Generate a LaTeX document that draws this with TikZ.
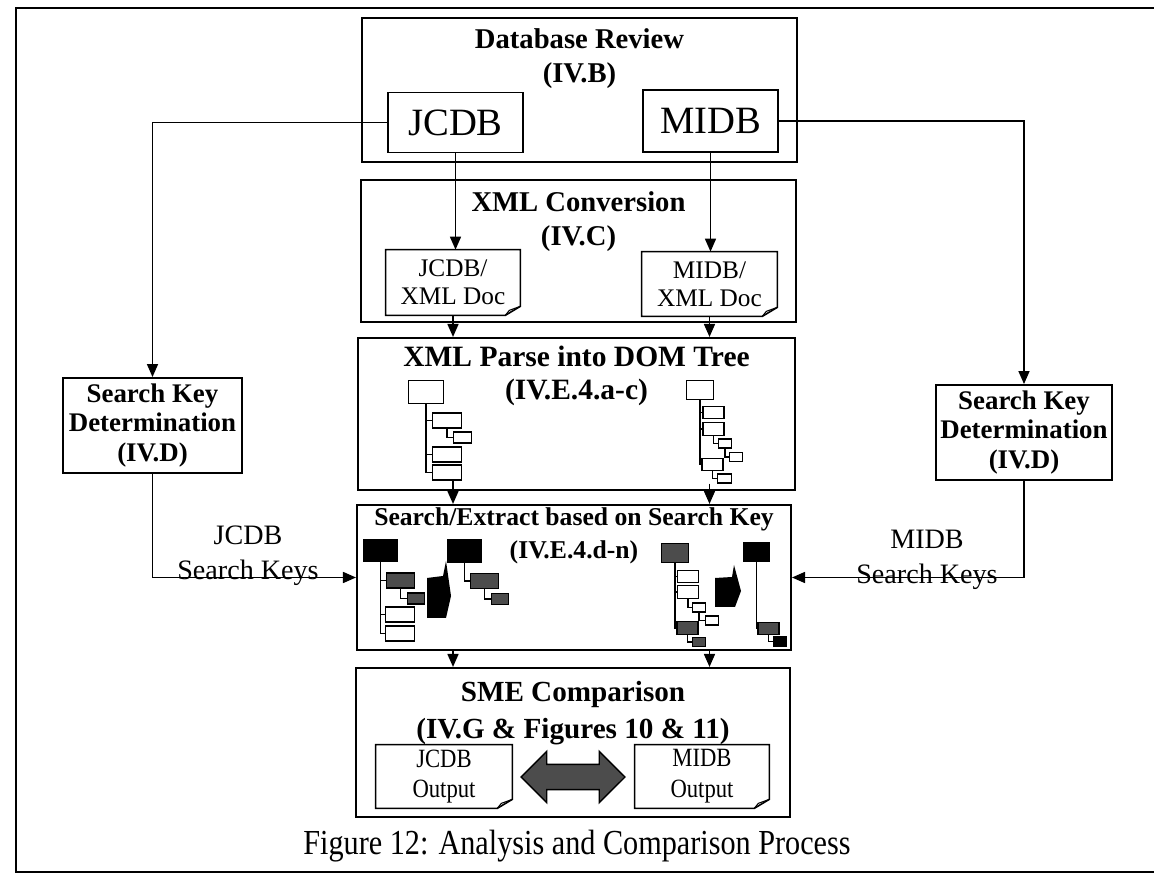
\documentclass[tikz,border=0pt]{standalone}
\usepackage{fontspec}
\setmainfont{Liberation Serif}
\newfontfamily\narrowfont[FakeStretch=0.86]{Liberation Serif}
\usetikzlibrary{arrows.meta, positioning, calc, shapes.arrows}

% page with a curled corner round a node
\newcommand{\docframe}[1]{%
  \draw[line width=0.9pt] (#1.north west) -- (#1.north east) -- ([yshift=0.18cm]#1.south east)
    -- ([xshift=-0.3cm]#1.south east) -- (#1.south west) -- cycle;
  \draw[line width=0.6pt] ([xshift=-0.3cm]#1.south east) -- ([xshift=-0.22cm,yshift=0.1cm]#1.south east)
    -- ([yshift=0.18cm]#1.south east);}

\tikzset{
  stage/.style={draw, line width=1.2pt, inner sep=0pt},
  ttl/.style={font=\fontsize{16.3}{19}\selectfont\bfseries, align=center, inner sep=0pt},
  dbbox/.style={draw, line width=1.1pt, font=\fontsize{22}{24}\selectfont, inner sep=0pt},
  doc/.style={inner sep=0pt, align=center, font=\fontsize{14.4}{16}\selectfont},
  outdoc/.style={inner sep=0pt, align=center, font=\narrowfont\fontsize{15}{17.5}\selectfont},
  keybox/.style={draw, line width=1.1pt, font=\fontsize{15.3}{17}\selectfont\bfseries, align=center, inner sep=0pt},
  lbl/.style={font=\fontsize{16}{20}\selectfont, align=center, inner sep=0pt},
  arr/.style={-{Triangle[length=2.6mm,width=2.2mm]}, line width=0.9pt},
  tline/.style={line width=0.8pt},
  troot/.style={draw, line width=0.8pt, inner sep=0pt, minimum width=0.69cm, minimum height=0.45cm},
  tkid/.style={draw, line width=0.8pt, inner sep=0pt, minimum width=0.57cm, minimum height=0.3cm},
  tgc/.style={draw, line width=0.8pt, inner sep=0pt, minimum width=0.35cm, minimum height=0.22cm},
  sroot/.style={draw, line width=0.8pt, inner sep=0pt, minimum width=0.53cm, minimum height=0.38cm},
  skid/.style={draw, line width=0.8pt, inner sep=0pt, minimum width=0.42cm, minimum height=0.25cm},
  sgc/.style={draw, line width=0.8pt, inner sep=0pt, minimum width=0.27cm, minimum height=0.18cm},
  wt/.style={fill=white},
  bk/.style={fill=black},
  dk/.style={fill=black!70}
}

\begin{document}
\begin{tikzpicture}[x=0.02cm, y=-0.02cm]
  \useasboundingbox (0,0) rectangle (1154,878);

  % Frame
  \draw[line width=1.3pt] (1170,8) -- (16,8) -- (16,872) -- (1170,872);

  % Database review
  \node[stage, minimum width=8.7cm, minimum height=2.88cm] (dbrev) at (579.5,90) {};
  \node[ttl] (dbrevT) at (579.5,58.5) {Database Review\\(IV.B)};
  \node[dbbox, minimum width=2.7cm, minimum height=1.2cm] (jcdb) at (455.5,122.5) {JCDB};
  \node[dbbox, minimum width=2.7cm, minimum height=1.24cm] (midb) at (710.5,121) {MIDB};

  % XML conversion
  \node[stage, minimum width=8.7cm, minimum height=2.84cm] (xmlconv) at (578.5,251) {};
  \node[ttl] (xmlconvT) at (578.5,221.5) {XML Conversion\\(IV.C)};
  \node[doc, minimum width=2.68cm, minimum height=1.3cm] (jdoc) at (453,282.5) {JCDB/\\XML Doc};
  \node[doc, minimum width=2.7cm, minimum height=1.28cm] (mdoc) at (709.5,284) {MIDB/\\XML Doc};
  \docframe{jdoc}
  \docframe{mdoc}
  \draw[arr] (jcdb.south) -- (jcdb.south |- jdoc.north);
  \draw[arr] (midb.south) -- (midb.south |- mdoc.north);

  % DOM tree
  \node[stage, minimum width=8.74cm, minimum height=3.04cm] (dom) at (576.5,414) {};
  \node[ttl, font=\fontsize{16.8}{19}\selectfont\bfseries] (domT) at (576.5,376) {XML Parse into DOM Tree\\(IV.E.4.a-c)};
  \draw[arr] (jdoc.south) -- (jdoc.south |- dom.north);
  \draw[arr] (mdoc.south) -- (mdoc.south |- dom.north);

  \node[troot, wt] (lr) at (426,392) {};
  \node[tkid, wt] (l1) at (447,420.5) {};
  \node[tgc, wt] (l1a) at (462.5,437.5) {};
  \node[tkid, wt] (l2) at (447,454.5) {};
  \node[tkid, wt] (l3) at (447,472.5) {};
  \draw[tline] (lr.south) |- (l3.west);
  \draw[tline] (lr.south |- l1.west) -- (l1.west);
  \draw[tline] (lr.south |- l2.west) -- (l2.west);
  \draw[tline] (l1.south) |- (l1a.west);

  \node[sroot, wt] (rr) at (700,390) {};
  \node[skid, wt] (r1) at (713.5,412.5) {};
  \node[skid, wt] (r2) at (713.5,429) {};
  \node[sgc, wt] (r2a) at (725,443.5) {};
  \node[sgc, wt] (r2b) at (736,457) {};
  \node[skid, wt] (r3) at (712.5,464.5) {};
  \node[sgc, wt] (r3a) at (724.5,478.5) {};
  \draw[tline] (rr.south) |- (r3.west);
  \draw[tline] (rr.south |- r1.west) -- (r1.west);
  \draw[tline] (rr.south |- r2.west) -- (r2.west);
  \draw[tline] (r2.south) |- (r2a.west);
  \draw[tline] (r2a.south) |- (r2b.west);
  \draw[tline] (r3.south) |- (r3a.west);

  % Search / extract
  \node[stage, minimum width=8.68cm, minimum height=2.9cm] (ext) at (574,577.5) {};
  \node[ttl, font=\fontsize{14.6}{19}\selectfont\bfseries] (extT) at (574,536) {Search/Extract based on Search Key\\(IV.E.4.d-n)};
  \draw[arr] (l3.south -| jdoc.south) -- (ext.north -| jdoc.south);
  \draw[arr] (r3a.south -| mdoc.south) -- (ext.north -| mdoc.south);

  \node[troot, bk] (slr) at (380.5,550.5) {};
  \node[tkid, dk] (sl1) at (400.5,580.5) {};
  \node[tgc, dk] (sl1a) at (416,598.5) {};
  \node[tkid, wt] (sl2) at (400,614.5) {};
  \node[tkid, wt] (sl3) at (400,633.5) {};
  \draw[tline] (slr.south) |- (sl3.west);
  \draw[tline] (slr.south |- sl1.west) -- (sl1.west);
  \draw[tline] (slr.south |- sl2.west) -- (sl2.west);
  \draw[tline] (sl1.south) |- (sl1a.west);
  \fill (427,578) -- (443,576) -- (446,561) -- (451,596) -- (446,618) -- (427,618) -- cycle;
  \node[troot, bk] (elr) at (464.5,551) {};
  \node[tkid, dk] (el1) at (484.5,581) {};
  \node[tgc, dk] (el1a) at (500,599) {};
  \draw[tline] (elr.south) |- (el1.west);
  \draw[tline] (el1.south) |- (el1a.west);

  \node[sroot, dk] (srr) at (675,553) {};
  \node[skid, wt] (sr1) at (688,576.5) {};
  \node[skid, wt] (sr2) at (688,592) {};
  \node[sgc, wt] (sr2a) at (699,607.5) {};
  \node[sgc, wt] (sr2b) at (712,620.5) {};
  \node[skid, dk] (sr3) at (687.5,628) {};
  \node[sgc, dk] (sr3a) at (699,642) {};
  \draw[tline] (srr.south) |- (sr3.west);
  \draw[tline] (srr.south |- sr1.west) -- (sr1.west);
  \draw[tline] (srr.south |- sr2.west) -- (sr2.west);
  \draw[tline] (sr2.south) |- (sr2a.west);
  \draw[tline] (sr2a.south) |- (sr2b.west);
  \draw[tline] (sr3.south) |- (sr3a.west);
  \fill (715,578) -- (732,577) -- (734,565) -- (741,591) -- (735,607) -- (715,607) -- cycle;
  \node[sroot, bk] (err) at (756.5,552) {};
  \node[skid, dk] (er1) at (768.5,628.5) {};
  \node[sgc, bk] (er1a) at (780,641.5) {};
  \draw[tline] (err.south) |- (er1.west);
  \draw[tline] (er1.south) |- (er1a.west);

  % SME comparison
  \node[stage, minimum width=8.68cm, minimum height=2.98cm] (sme) at (573,742.5) {};
  \node[ttl, font=\fontsize{16.6}{21}\selectfont\bfseries] (smeT) at (573,713.5) {SME Comparison\\(IV.G \& Figures 10 \& 11)};
  \draw[arr] (ext.south -| jdoc.south) -- (sme.north -| jdoc.south);
  \draw[arr] (ext.south -| mdoc.south) -- (sme.north -| mdoc.south);
  \node[outdoc, minimum width=2.72cm, minimum height=1.26cm] (jout) at (444,776.5) {JCDB\\Output};
  \node[outdoc, minimum width=2.68cm, minimum height=1.26cm] (mout) at (702,776.5) {MIDB\\Output};
  \docframe{jout}
  \docframe{mout}
  \node[double arrow, draw, line width=0.8pt, fill=black!70, inner xsep=0pt, inner ysep=0.24cm,
        minimum height=2.08cm, double arrow head extend=0.26cm] (cmp) at (573,777) {};

  % Search keys
  \node[keybox, minimum width=3.58cm, minimum height=1.9cm] (skl) at (152.5,425.5) {Search Key\\Determination\\(IV.D)};
  \node[keybox, minimum width=3.52cm, minimum height=1.9cm] (skr) at (1024,432.5) {Search Key\\Determination\\(IV.D)};
  \draw[arr] (jcdb.west) -| (skl.north);
  \draw[arr] (midb.east) -| (skr.north);
  \draw[arr] (skl.south) |- (ext.west);
  \draw[arr] (skr.south) |- (ext.east);
  \node[lbl] (klbl) at (248,556) {JCDB\\Search Keys};
  \node[lbl] (mlbl) at (927,560) {MIDB\\Search Keys};

  % Caption
  \node[font=\narrowfont\fontsize{20}{22}\selectfont, inner sep=0pt] (caption) at (577,846) {Figure 12: Analysis and Comparison Process};
\end{tikzpicture}
\end{document}
